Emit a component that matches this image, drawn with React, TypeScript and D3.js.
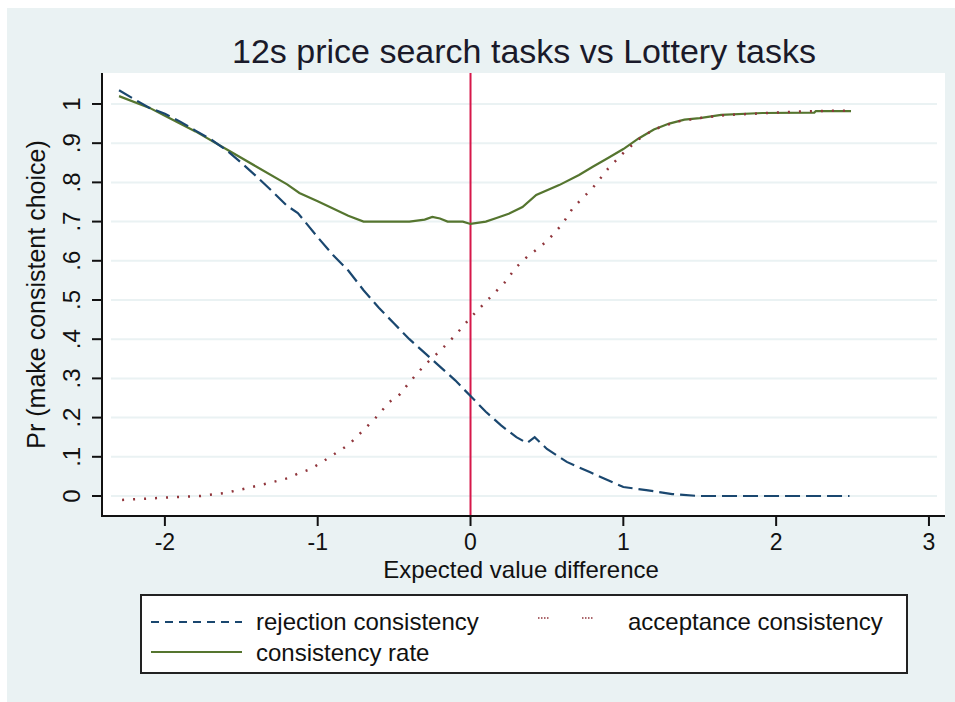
import * as d3 from 'd3';

// rejection consistency (blue dashed)
const rejX = [-2.3, -2.2, -2.1, -2.0, -1.9, -1.8, -1.7, -1.6, -1.5, -1.4, -1.3, -1.2, -1.13, -1.0, -0.9, -0.8, -0.7, -0.6, -0.5, -0.4, -0.3, -0.2, -0.1, 0.0, 0.1, 0.2, 0.3, 0.37, 0.42, 0.5, 0.63, 0.78, 0.9, 1.0, 1.15, 1.32, 1.49, 1.8, 2.1, 2.48];
const rejY = [1.035, 1.012, 0.99, 0.975, 0.955, 0.932, 0.91, 0.883, 0.85, 0.815, 0.778, 0.74, 0.722, 0.66, 0.615, 0.575, 0.525, 0.48, 0.44, 0.40, 0.365, 0.33, 0.295, 0.255, 0.215, 0.18, 0.15, 0.135, 0.15, 0.12, 0.087, 0.061, 0.04, 0.023, 0.015, 0.005, 0.0, 0.0, 0.0, 0.0];

// acceptance consistency (red dotted)
const accX = [-2.28, -2.04, -1.77, -1.6, -1.43, -1.32, -1.19, -1.12, -1.05, -0.97, -0.8, -0.76, -0.68, -0.62, -0.53, -0.46, -0.4, -0.3, -0.2, -0.1, 0.0, 0.157, 0.22, 0.3, 0.37, 0.43, 0.5, 0.6, 0.67, 0.8, 0.9, 1.0, 1.1, 1.2, 1.35, 1.5, 1.68, 1.95, 2.1, 2.4, 2.48];
const accY = [-0.01, -0.005, 0.0, 0.008, 0.023, 0.033, 0.046, 0.059, 0.068, 0.087, 0.13, 0.145, 0.176, 0.2, 0.24, 0.26, 0.29, 0.334, 0.37, 0.41, 0.455, 0.518, 0.543, 0.584, 0.61, 0.628, 0.65, 0.693, 0.735, 0.786, 0.835, 0.875, 0.91, 0.935, 0.955, 0.964, 0.972, 0.977, 0.98, 0.983, 0.983];

// consistency rate (green solid)
const conX = [-2.3, -2.1, -2.0, -1.8, -1.6, -1.4, -1.2, -1.12, -1.0, -0.8, -0.7, -0.55, -0.4, -0.3, -0.25, -0.2, -0.15, -0.05, 0.0, 0.1, 0.17, 0.25, 0.34, 0.43, 0.58, 0.71, 0.8, 0.9, 1.0, 1.1, 1.2, 1.3, 1.4, 1.5, 1.64, 1.91, 2.25, 2.26, 2.49];
const conY = [1.02, 0.99, 0.97, 0.93, 0.885, 0.84, 0.795, 0.773, 0.752, 0.715, 0.70, 0.70, 0.70, 0.705, 0.712, 0.708, 0.70, 0.70, 0.694, 0.70, 0.709, 0.72, 0.737, 0.768, 0.793, 0.819, 0.84, 0.862, 0.885, 0.912, 0.935, 0.95, 0.96, 0.964, 0.972, 0.977, 0.978, 0.982, 0.982];

const xTicks = [-2, -1, 0, 1, 2, 3];
const yTicks = [0, 0.1, 0.2, 0.3, 0.4, 0.5, 0.6, 0.7, 0.8, 0.9, 1];
const yTickLabels = ['0', '.1', '.2', '.3', '.4', '.5', '.6', '.7', '.8', '.9', '1'];

const W = 955,
	H = 702;
const plot = { left: 103, right: 945, top: 73, bottom: 516 };
const font = '"Liberation Sans", Arial, sans-serif';

const navy = '#1a476f';
const maroon = '#90353b';
const green = '#55752f';

export default function App() {
	const x = d3.scaleLinear().domain([-2.405, 3.105]).range([plot.left, plot.right]);
	const y = d3.scaleLinear().domain([-0.051, 1.079]).range([plot.bottom, plot.top]);
	const line = d3
		.line<[number, number]>()
		.x((d) => x(d[0]))
		.y((d) => y(d[1]));
	const rej = rejX.map((v, i) => [v, rejY[i]] as [number, number]);
	const acc = accX.map((v, i) => [v, accY[i]] as [number, number]);
	const con = conX.map((v, i) => [v, conY[i]] as [number, number]);

	return (
		<svg
			width={W}
			height={H}
			style={{ position: 'absolute', left: 0, top: 0 }}
			fontFamily={font}
		>
			<rect x={0} y={0} width={W} height={H} fill="white" />
			<rect x={7} y={8} width={W - 7} height={H - 8} fill="#eaf2f3" />
			<rect
				x={plot.left}
				y={plot.top}
				width={plot.right - plot.left}
				height={plot.bottom - plot.top}
				fill="white"
			/>
			{/* gridlines */}
			{yTicks.map((t) => (
				<line
					key={t}
					x1={plot.left + 8}
					x2={plot.right - 8}
					y1={y(t)}
					y2={y(t)}
					stroke="#eaf2f3"
					strokeWidth={2}
				/>
			))}
			{/* title */}
			<text x={524} y={63} textAnchor="middle" fontSize={34} fill="#1a1a2a">
				12s price search tasks vs Lottery tasks
			</text>
			{/* reference line at 0 */}
			<line x1={x(0)} x2={x(0)} y1={plot.top} y2={plot.bottom} stroke="#d6174a" strokeWidth={2} />
			{/* series */}
			<path d={line(con)!} fill="none" stroke={green} strokeWidth={2.2} />
			<path d={line(rej)!} fill="none" stroke={navy} strokeWidth={2.2} strokeDasharray="15,6" />
			<path
				d={line(acc)!}
				fill="none"
				stroke={maroon}
				strokeWidth={2.5}
				strokeDasharray="2,9"
			/>
			{/* y axis */}
			<g>
				<line x1={plot.left - 1} x2={plot.left - 1} y1={plot.top} y2={plot.bottom + 1} stroke="#111" strokeWidth={2} />
				{yTicks.map((t, i) => (
					<g key={t} transform={`translate(0, ${y(t)})`}>
						<line x1={92} x2={plot.left - 1} stroke="#111" strokeWidth={2} />
						<text
							transform="translate(80, 0) rotate(-90)"
							textAnchor="middle"
							fontSize={24}
							fill="#111"
						>
							{yTickLabels[i]}
						</text>
					</g>
				))}
				<text
					transform={`translate(45, ${(plot.top + plot.bottom) / 2}) rotate(-90)`}
					textAnchor="middle"
					fontSize={25}
					fill="#111"
				>
					Pr (make consistent choice)
				</text>
			</g>
			{/* x axis */}
			<g>
				<line x1={plot.left - 2} x2={plot.right} y1={plot.bottom} y2={plot.bottom} stroke="#111" strokeWidth={2} />
				{xTicks.map((t) => (
					<g key={t} transform={`translate(${x(t)}, 0)`}>
						<line y1={plot.bottom} y2={plot.bottom + 10} stroke="#111" strokeWidth={2} />
						<text y={550} textAnchor="middle" fontSize={23} fill="#111">
							{t}
						</text>
					</g>
				))}
				<text x={521} y={578} textAnchor="middle" fontSize={24} fill="#111">
					Expected value difference
				</text>
			</g>
			{/* legend */}
			<g>
				<rect x={141} y={595} width={766} height={78} fill="white" stroke="#222" strokeWidth={2} />
				<line x1={151} x2={242} y1={622} y2={622} stroke={navy} strokeWidth={2} strokeDasharray="8,6" />
				<text x={256} y={630} fontSize={24} fill="#111">
					rejection consistency
				</text>
				<line x1={538} x2={595} y1={618} y2={618} stroke={maroon} strokeWidth={1.5} strokeDasharray="1.5,1.5,1.5,1.5,1.5,1.5,1.5,33.5" />
				<text x={628} y={630} fontSize={24} fill="#111">
					acceptance consistency
				</text>
				<line x1={151} x2={242} y1={652} y2={652} stroke={green} strokeWidth={2} />
				<text x={256} y={661} fontSize={24} fill="#111">
					consistency rate
				</text>
			</g>
		</svg>
	);
}
